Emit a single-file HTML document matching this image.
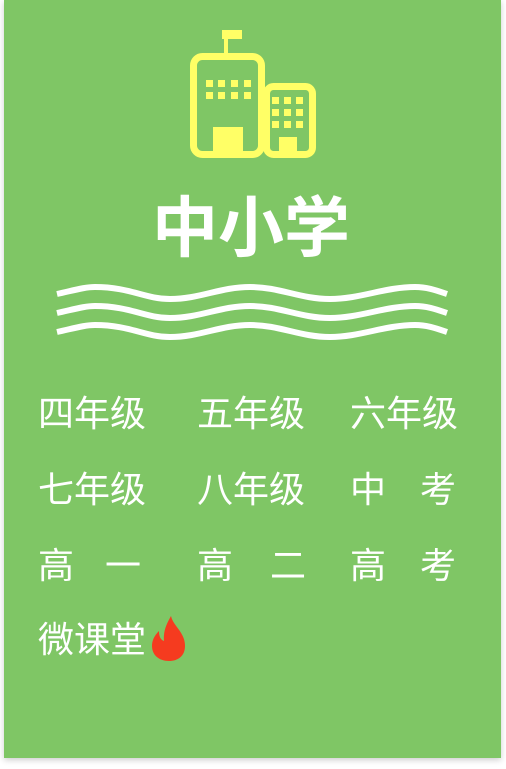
<!DOCTYPE html>
<html><head><meta charset="utf-8"><style>
body{margin:0;width:506px;height:769px;background:#fff;position:relative;overflow:hidden;font-family:"Liberation Sans","Noto Sans CJK SC",sans-serif}
.card{position:absolute;left:4px;top:0;width:497px;height:758px;background:#7fc665;box-shadow:0 2px 6px rgba(0,0,0,.2)}
.t{position:absolute;color:#fff;font-size:36px;line-height:40px;white-space:nowrap}
.title{position:absolute;left:0;width:502px;top:192px;text-align:center;color:#fff;font-size:66px;font-weight:bold;line-height:72px}
</style></head><body>
<div class="card"></div>
<svg style="position:absolute;left:0;top:0" width="506" height="769">
<g fill="#ffff66" stroke="none">
<rect x="224" y="30" width="4" height="24"/><rect x="222" y="30" width="20" height="9"/>
<rect x="193.5" y="56.5" width="68" height="98" rx="9" fill="none" stroke="#ffff66" stroke-width="7"/>
<rect x="266.5" y="86.5" width="46" height="68" rx="7" fill="none" stroke="#ffff66" stroke-width="7"/>
<rect x="213" y="127" width="30" height="30"/><rect x="279" y="137" width="18" height="20"/>
<g id="w1"><rect x="206" y="80" width="7" height="7"/><rect x="218" y="80" width="7" height="7"/><rect x="231" y="80" width="7" height="7"/><rect x="244" y="80" width="7" height="7"/></g>
<use href="#w1" y="12"/>
<g id="w2"><rect x="272" y="97" width="7" height="7"/><rect x="284" y="97" width="7" height="7"/><rect x="296" y="97" width="7" height="7"/></g>
<use href="#w2" y="12"/><use href="#w2" y="24"/>
</g>
<g fill="none" stroke="#fff" stroke-width="6">
<path id="wv" d="M57 294 C75 290,85 287,95 287 C130 287,145 299,170 299 C200 299,220 287,250 287 C280 287,300 299,330 299 C360 299,385 287,415 287 C428 287,438 291,447 294"/>
<use href="#wv" y="19"/><use href="#wv" y="38"/>
</g>
</svg>
<div class="title">中小学</div>
<div class="t" style="left:38px;top:394px">四年级</div>
<div class="t" style="left:197px;top:394px">五年级</div>
<div class="t" style="left:350px;top:394px">六年级</div>
<div class="t" style="left:38px;top:470px">七年级</div>
<div class="t" style="left:197px;top:470px">八年级</div>
<div class="t" style="left:350px;top:470px">中<span style="margin-left:34px">考</span></div>
<div class="t" style="left:38px;top:546px">高<span style="margin-left:31px">一</span></div>
<div class="t" style="left:197px;top:546px">高<span style="margin-left:37px">二</span></div>
<div class="t" style="left:350px;top:546px">高<span style="margin-left:34px">考</span></div>
<div class="t" style="left:38px;top:620px">微课堂</div>
<svg style="position:absolute;left:151px;top:616px" width="36" height="46" viewBox="0 0 36 46">
<path d="M20 0 C22 10,34 16,34 30 C34 40,27 45,18 45 C8 45,1 39,1 30 C1 23,5 18,8 15 C8 21,10 24,13 25 C12 15,16 7,20 0Z" fill="#f53b1f"/>
</svg>
</body></html>
